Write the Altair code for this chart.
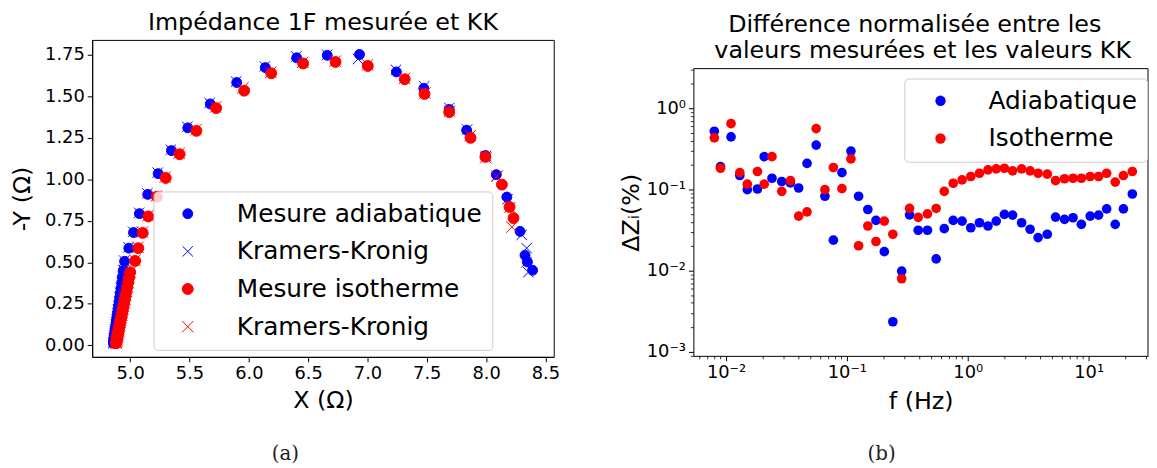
import altair as alt
import pandas as pd

# ---------------- Panel (a): Nyquist plot ----------------
# Adiabatic measurement (dense high-frequency part, then the arc)
adia_dense_x = [4.859, 4.860, 4.862, 4.863, 4.865, 4.866, 4.868, 4.870, 4.873, 4.875, 4.878, 4.881, 4.884,
                4.887, 4.890, 4.894, 4.898, 4.902, 4.907, 4.912, 4.917, 4.923, 4.929, 4.935, 4.943]
adia_dense_y = [0.012, 0.018, 0.025, 0.032, 0.040, 0.049, 0.059, 0.070, 0.082, 0.095, 0.109, 0.124, 0.140,
                0.157, 0.175, 0.194, 0.215, 0.237, 0.261, 0.287, 0.315, 0.345, 0.378, 0.413, 0.452]
adia_arc_x = [4.953, 4.989, 5.028, 5.078, 5.148, 5.236, 5.348, 5.486, 5.675, 5.898, 6.139, 6.403, 6.661,
              6.933, 7.244, 7.475, 7.689, 7.836, 7.994, 8.086, 8.175, 8.286, 8.328, 8.348, 8.392]
adia_arc_y = [0.506, 0.585, 0.679, 0.793, 0.909, 1.034, 1.173, 1.310, 1.454, 1.583, 1.673, 1.732, 1.747,
              1.752, 1.647, 1.548, 1.421, 1.296, 1.143, 1.028, 0.893, 0.686, 0.542, 0.502, 0.452]
adia_kk_arc_x = [4.950, 4.986, 5.025, 5.075, 5.145, 5.232, 5.343, 5.482, 5.670, 5.893, 6.135, 6.400, 6.660,
                 6.920, 7.240, 7.478, 7.690, 7.840, 7.998, 8.090, 8.180, 8.300, 8.342, 8.340, 8.356]
adia_kk_arc_y = [0.510, 0.590, 0.684, 0.798, 0.915, 1.040, 1.178, 1.316, 1.460, 1.589, 1.680, 1.740, 1.750,
                 1.725, 1.660, 1.560, 1.430, 1.300, 1.140, 1.020, 0.880, 0.665, 0.585, 0.500, 0.440]

# Isothermal measurement
iso_dense_x = [4.881, 4.883, 4.885, 4.887, 4.889, 4.891, 4.894, 4.896, 4.899, 4.902, 4.905, 4.909, 4.912, 4.916,
               4.920, 4.924, 4.929, 4.934, 4.939, 4.944, 4.950, 4.956, 4.962, 4.969, 4.976, 4.984, 4.992, 5.001]
iso_dense_y = [0.012, 0.018, 0.025, 0.032, 0.040, 0.048, 0.057, 0.066, 0.076, 0.087, 0.098, 0.110, 0.123, 0.137,
               0.151, 0.166, 0.182, 0.199, 0.217, 0.236, 0.256, 0.277, 0.300, 0.324, 0.350, 0.378, 0.408, 0.440]
iso_arc_x = [5.042, 5.069, 5.106, 5.153, 5.225, 5.300, 5.417, 5.558, 5.725, 5.961, 6.189, 6.458, 6.731,
             7.003, 7.314, 7.481, 7.689, 7.869, 7.994, 8.133, 8.198, 8.231]
iso_arc_y = [0.508, 0.585, 0.677, 0.776, 0.895, 1.008, 1.151, 1.292, 1.429, 1.534, 1.639, 1.698, 1.707,
             1.683, 1.603, 1.514, 1.405, 1.250, 1.135, 0.968, 0.833, 0.766]
iso_kk_arc_x = [5.040, 5.066, 5.103, 5.150, 5.221, 5.296, 5.413, 5.553, 5.720, 5.950, 6.185, 6.455, 6.728,
                7.000, 7.312, 7.484, 7.692, 7.865, 7.998, 8.092, 8.200, 8.217]
iso_kk_arc_y = [0.512, 0.590, 0.682, 0.781, 0.900, 1.013, 1.157, 1.298, 1.436, 1.550, 1.645, 1.705, 1.712,
                1.690, 1.608, 1.520, 1.410, 1.262, 1.130, 1.018, 0.830, 0.712]

x_ticks_a = [5.0, 5.5, 6.0, 6.5, 7.0, 7.5, 8.0, 8.5]
y_ticks_a = [0.0, 0.25, 0.5, 0.75, 1.0, 1.25, 1.5, 1.75]

# ---------------- Panel (b): normalised difference ----------------
freq = [0.0080, 0.0090, 0.0110, 0.0130, 0.0150, 0.0182, 0.0207, 0.0240, 0.0289, 0.0341, 0.0399, 0.0468,
        0.0557, 0.0658, 0.0773, 0.0910, 0.108, 0.125, 0.149, 0.174, 0.204, 0.240, 0.284, 0.330, 0.389,
        0.464, 0.548, 0.639, 0.758, 0.898, 1.06, 1.25, 1.47, 1.72, 2.01, 2.35, 2.79, 3.28, 3.82, 4.55,
        5.33, 6.32, 7.43, 8.71, 10.3, 12.1, 14.1, 16.6, 19.4, 23.0]
diff_adia = [0.520, 0.191, 0.443, 0.148, 0.0991, 0.101, 0.253, 0.137, 0.125, 0.120, 0.104, 0.209, 0.351,
             0.0822, 0.0237, 0.161, 0.296, 0.0822, 0.0565, 0.0415, 0.0171, 0.00234, 0.00986, 0.0486,
             0.0314, 0.0314, 0.0139, 0.0328, 0.0415, 0.0407, 0.0337, 0.0388, 0.0354, 0.0407, 0.0491,
             0.0482, 0.0388, 0.0323, 0.0255, 0.0280, 0.0456, 0.0427, 0.0447, 0.0371, 0.0469, 0.0482,
             0.0575, 0.0371, 0.0575, 0.0877]
diff_iso = [0.431, 0.182, 0.644, 0.161, 0.116, 0.166, 0.116, 0.253, 0.0946, 0.128, 0.0469, 0.0529, 0.560,
            0.0991, 0.186, 0.102, 0.237, 0.0202, 0.0354, 0.0228, 0.0407, 0.0280, 0.00792, 0.0583, 0.0452,
            0.0500, 0.0582, 0.0946, 0.119, 0.131, 0.144, 0.158, 0.174, 0.179, 0.182, 0.169, 0.179, 0.169,
            0.158, 0.154, 0.128, 0.135, 0.137, 0.137, 0.144, 0.144, 0.158, 0.123, 0.148, 0.166]

title_a = "Impédance 1F mesurée et KK"
title_b = ["Différence normalisée entre les", "valeurs mesurées et les valeurs KK"]

BLUE = "#0000ff"
RED = "#ff0000"
FONT = "DejaVu Sans"
CROSS = "M-1,-1L1,1M1,-1L-1,1"

W_A, H_A = 466, 320
W_B, H_B = 459, 290
SHIFT_B = 29          # right panel's frame starts this much lower than the left one

def one(**kw):
    return pd.DataFrame([kw])

# ---------- build table for panel (a) ----------
rows = []
for xs, ys, key in [
    (adia_dense_x + adia_arc_x, adia_dense_y + adia_arc_y, "m_a"),
    (adia_dense_x + adia_kk_arc_x, adia_dense_y + adia_kk_arc_y, "k_a"),
    (iso_dense_x + iso_arc_x, iso_dense_y + iso_arc_y, "m_i"),
    (iso_dense_x + iso_kk_arc_x, iso_dense_y + iso_kk_arc_y, "k_i"),
]:
    for xv, yv in zip(xs, ys):
        rows.append({"x": xv, "y": yv, "s": key})
nyq = pd.DataFrame(rows)

dom = ["m_a", "k_a", "m_i", "k_i"]
label_expr = ("datum.label == 'm_a' ? 'Mesure adiabatique' : "
              "datum.label == 'm_i' ? 'Mesure isotherme' : 'Kramers-Kronig'")
leg_a = alt.Legend(title=None, orient="none", legendX=62, legendY=153, labelExpr=label_expr,
                   labelFontSize=25, labelFont=FONT, labelColor="black", labelLimit=600,
                   padding=10, rowPadding=12, symbolOffset=12, labelOffset=37,
                   fillColor="rgba(255,255,255,0.8)", strokeColor="#cccccc", cornerRadius=4,
                   symbolStrokeWidth=1)

pts_a = alt.Chart(nyq).mark_point(opacity=1, strokeWidth=1).encode(
    x=alt.X("x:Q", scale=alt.Scale(domain=[4.68, 8.57], nice=False, zero=False),
            axis=alt.Axis(values=x_ticks_a, format=".1f", title="X (Ω)", titlePadding=6)),
    y=alt.Y("y:Q", scale=alt.Scale(domain=[-0.07, 1.84], nice=False, zero=False),
            axis=alt.Axis(values=y_ticks_a, format=".2f", title="-Y (Ω)", titlePadding=10,
                          minExtent=48, maxExtent=48)),
    shape=alt.Shape("s:N", scale=alt.Scale(domain=dom, range=["circle", CROSS, "circle", CROSS]), legend=leg_a),
    fill=alt.Fill("s:N", scale=alt.Scale(domain=dom, range=[BLUE, "transparent", RED, "transparent"]), legend=leg_a),
    stroke=alt.Stroke("s:N", scale=alt.Scale(domain=dom, range=[BLUE, BLUE, RED, RED]), legend=leg_a),
    size=alt.Size("s:N", scale=alt.Scale(domain=dom, range=[100, 132, 100, 132]), legend=leg_a),
)

ttl_a = alt.Chart(one(t=title_a)).mark_text(
    font=FONT, fontSize=24, color="black", align="center", baseline="middle"
).encode(text="t:N", x=alt.value(W_A / 2), y=alt.value(-17))

cap_a = alt.Chart(one(t="(a)")).mark_text(
    font="DejaVu Serif", fontSize=20, color="#222222", align="center", baseline="middle"
).encode(text="t:N", x=alt.value(195), y=alt.value(418))

left = alt.layer(pts_a, ttl_a, cap_a).properties(
    width=W_A, height=H_A, view=alt.ViewBackground(stroke="black", strokeWidth=1)
)

# ---------- panel (b) ----------
rows_b = []
for name, vals in [("Adiabatique", diff_adia), ("Isotherme", diff_iso)]:
    for f, v in zip(freq, vals):
        rows_b.append({"f": f, "v": v, "s": name})
dfb = pd.DataFrame(rows_b)

E = "round(log(datum.value)/LN10)"
MAJOR = f"abs(log(datum.value)/LN10 - {E}) < 0.001"
LAB = (f"{MAJOR} ? ({E} == -3 ? '10⁻³' : {E} == -2 ? '10⁻²' : {E} == -1 ? '10⁻¹' : "
       f"{E} == 0 ? '10⁰' : {E} == 1 ? '10¹' : '') : ''")

x_vals_b = [m * 10.0 ** e for e in range(-3, 2) for m in range(1, 10) if 0.0054 <= m * 10.0 ** e <= 31]
y_vals_b = [m * 10.0 ** e for e in range(-4, 1) for m in range(1, 10) if 0.00089 <= m * 10.0 ** e <= 3.07]

leg_b = alt.Legend(title=None, orient="none", legendX=820, legendY=10 + SHIFT_B, labelFontSize=25,
                   labelFont=FONT, labelColor="black", labelLimit=600, padding=10, rowPadding=12,
                   symbolOffset=14, labelOffset=36, symbolSize=110, symbolType="circle",
                   fillColor="rgba(255,255,255,0.8)", strokeColor="#cccccc", cornerRadius=4)

H_B_TOT = H_B + SHIFT_B
pts_b = alt.Chart(dfb).mark_circle(size=95, opacity=1).encode(
    x=alt.X("f:Q", scale=alt.Scale(type="log", domain=[0.00537, 31.0], nice=False),
            axis=alt.Axis(values=x_vals_b, labelExpr=LAB, labelOverlap=False, title="f (Hz)",
                          titlePadding=8,
                          tickSize={"condition": {"test": MAJOR, "value": 5}, "value": 3},
                          tickWidth={"condition": {"test": MAJOR, "value": 1}, "value": 0.8})),
    y=alt.Y("v:Q", scale=alt.Scale(type="log", domain=[0.00089, 3.07], nice=False,
                                   range=[H_B_TOT, SHIFT_B]),
            axis=alt.Axis(values=y_vals_b, labelExpr=LAB, labelOverlap=False, title="ΔZᵢ(%)",
                          titlePadding=0, minExtent=50, maxExtent=50,
                          tickSize={"condition": {"test": MAJOR, "value": 5}, "value": 3},
                          tickWidth={"condition": {"test": MAJOR, "value": 1}, "value": 0.8})),
    color=alt.Color("s:N", scale=alt.Scale(domain=["Adiabatique", "Isotherme"], range=[BLUE, RED]),
                    legend=leg_b),
)

frame_top = alt.Chart(one(k=1)).mark_rule(color="black", strokeWidth=1).encode(
    x=alt.value(0), x2=alt.value(W_B), y=alt.value(SHIFT_B))
frame_right = alt.Chart(one(k=1)).mark_rule(color="black", strokeWidth=1).encode(
    x=alt.value(W_B), y=alt.value(SHIFT_B), y2=alt.value(H_B_TOT))

ttl_b1 = alt.Chart(one(t=title_b[0])).mark_text(
    font=FONT, fontSize=24, color="black", align="center", baseline="middle"
).encode(text="t:N", x=alt.value(W_B / 2 - 6), y=alt.value(-15))
ttl_b2 = alt.Chart(one(t=title_b[1])).mark_text(
    font=FONT, fontSize=24, color="black", align="center", baseline="middle"
).encode(text="t:N", x=alt.value(W_B / 2 + 2), y=alt.value(11))

cap_b = alt.Chart(one(t="(b)")).mark_text(
    font="DejaVu Serif", fontSize=20, color="#222222", align="center", baseline="middle"
).encode(text="t:N", x=alt.value(190), y=alt.value(418))

right = alt.layer(pts_b, frame_top, frame_right, ttl_b1, ttl_b2, cap_b).properties(
    width=W_B, height=H_B_TOT, view=alt.ViewBackground(strokeOpacity=0)
)

chart = alt.hconcat(left, right, spacing=60).properties(
    padding={"left": 2, "top": 0, "right": 0, "bottom": 0}
).configure_axis(
    labelFont=FONT, labelFontSize=18, labelColor="black", labelPadding=3,
    titleFont=FONT, titleFontSize=24, titleFontWeight="normal", titleColor="black",
    tickColor="black", domainColor="black", tickSize=5, grid=False,
).configure_legend(labelFont=FONT)

chart.save("out.html", embed_options={"renderer": "svg", "actions": False})
